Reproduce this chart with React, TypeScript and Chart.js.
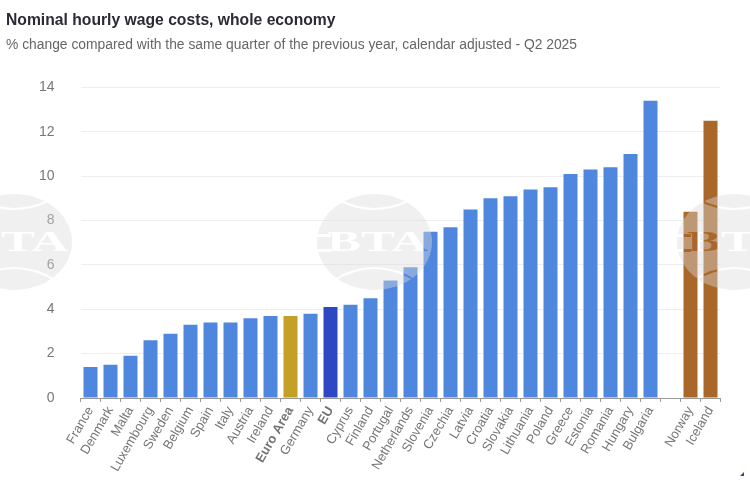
import React, { useEffect, useRef } from "react";
import { Chart, registerables } from "chart.js";

Chart.register(...registerables);

const titleText = "Nominal hourly wage costs, whole economy";
const subtitleText = "% change compared with the same quarter of the previous year, calendar adjusted - Q2 2025";
const countries = ["France","Denmark","Malta","Luxembourg","Sweden","Belgium","Spain","Italy","Austria","Ireland","Euro Area","Germany","EU","Cyprus","Finland","Portugal","Netherlands","Slovenia","Czechia","Latvia","Croatia","Slovakia","Lithuania","Poland","Greece","Estonia","Romania","Hungary","Bulgaria"," ","Norway","Iceland"];
const wageGrowth = [1.4,1.5,1.9,2.6,2.9,3.3,3.4,3.4,3.6,3.7,3.7,3.8,4.1,4.2,4.5,5.3,5.9,7.5,7.7,8.5,9.0,9.1,9.4,9.5,10.1,10.3,10.4,11.0,13.4,null,8.4,12.5];
const highlightEA = "Euro Area";
const highlightEU = "EU";
const efta = ["Norway","Iceland"];

const barColor = (name: string) =>
  name === highlightEA ? "#c4a027" : name === highlightEU ? "#2e48c4" : efta.includes(name) ? "#a9682a" : "#4f87de";

const FONT = "'Liberation Sans', Arial, sans-serif";

const watermark = {
  id: "watermark",
  afterDraw(chart: any) {
    const ctx = chart.ctx;
    const W = 115, H = 96;
    const off = document.createElement("canvas");
    off.width = W; off.height = H;
    const o = off.getContext("2d")!;
    o.fillStyle = "rgb(220,220,220)";
    o.beginPath(); o.ellipse(W / 2, H / 2, W / 2, H / 2, 0, 0, Math.PI * 2); o.fill();
    o.globalCompositeOperation = "destination-out";
    o.strokeStyle = "#000";
    o.lineWidth = 2;
    o.beginPath(); o.moveTo(22, 6); o.quadraticCurveTo(W / 2, 24, W - 22, 6); o.stroke();
    o.beginPath(); o.moveTo(14, 88); o.quadraticCurveTo(W / 2, 60, W - 14, 88); o.stroke();
    o.fillStyle = "#000";
    o.fillRect(0, 40, 14, 3);
    o.fillRect(0, 55, 14, 3);
    o.save();
    o.translate(W / 2 + 3, H / 2 + 1);
    o.scale(1.7, 1);
    o.font = "bold 30px 'Liberation Serif', serif";
    o.textAlign = "center"; o.textBaseline = "middle";
    o.fillText("BTA", 0, 0);
    o.restore();
    ctx.save();
    ctx.globalAlpha = 0.42;
    [-43, 317, 677].forEach((x) => ctx.drawImage(off, x, 194));
    ctx.globalAlpha = 1;
    ctx.fillStyle = "#2f4590";
    ctx.beginPath(); ctx.moveTo(744, 472); ctx.lineTo(744, 476); ctx.lineTo(740, 476); ctx.closePath(); ctx.fill();
    ctx.restore();
  },
};

export default function App() {
  const ref = useRef<HTMLCanvasElement>(null);
  useEffect(() => {
    document.body.style.margin = "0";
    const chart = new Chart(ref.current!, {
      type: "bar",
      data: {
        labels: countries,
        datasets: [{
          data: wageGrowth as any,
          backgroundColor: countries.map(barColor),
          categoryPercentage: 1,
          barPercentage: 0.7,
        }],
      },
      options: {
        responsive: false,
        animation: false,
        layout: { padding: { left: 6, right: 29.5, top: 0, bottom: 0 } },
        plugins: {
          legend: { display: false },
          tooltip: { enabled: false },
          title: {
            display: true, text: titleText, align: "start", color: "#2b2b33",
            font: { family: FONT, size: 15.7, weight: "bold" },
            padding: { top: 11, bottom: 7 },
          },
          subtitle: {
            display: true, text: subtitleText, align: "start", color: "#666666",
            font: { family: FONT, size: 13.85, weight: "normal" },
            padding: { top: 0, bottom: 34 },
          },
        },
        scales: {
          x: {
            border: { color: "#999999", width: 1 },
            grid: { drawOnChartArea: false, drawTicks: true, tickLength: 4, color: "#999999" },
            ticks: {
              autoSkip: false, minRotation: 60, maxRotation: 60, padding: 2, color: "#757575",
              font: (c: any) => ({
                family: FONT, size: 13,
                weight: [highlightEA, highlightEU].includes(countries[c.index]) ? "bold" : "normal",
              }),
            },
            afterFit: (s: any) => { s.height = 85; },
          },
          y: {
            min: 0, max: 14,
            border: { display: false },
            grid: { color: "#eeeeee", drawTicks: false },
            ticks: { stepSize: 2, color: "#777777", padding: 26, font: { family: FONT, size: 14 } },
            afterFit: (s: any) => { s.width = 74.5; },
          },
        },
      },
      plugins: [watermark],
    });
    return () => chart.destroy();
  }, []);
  return <canvas ref={ref} width={750} height={483} style={{ display: "block" }} />;
}
